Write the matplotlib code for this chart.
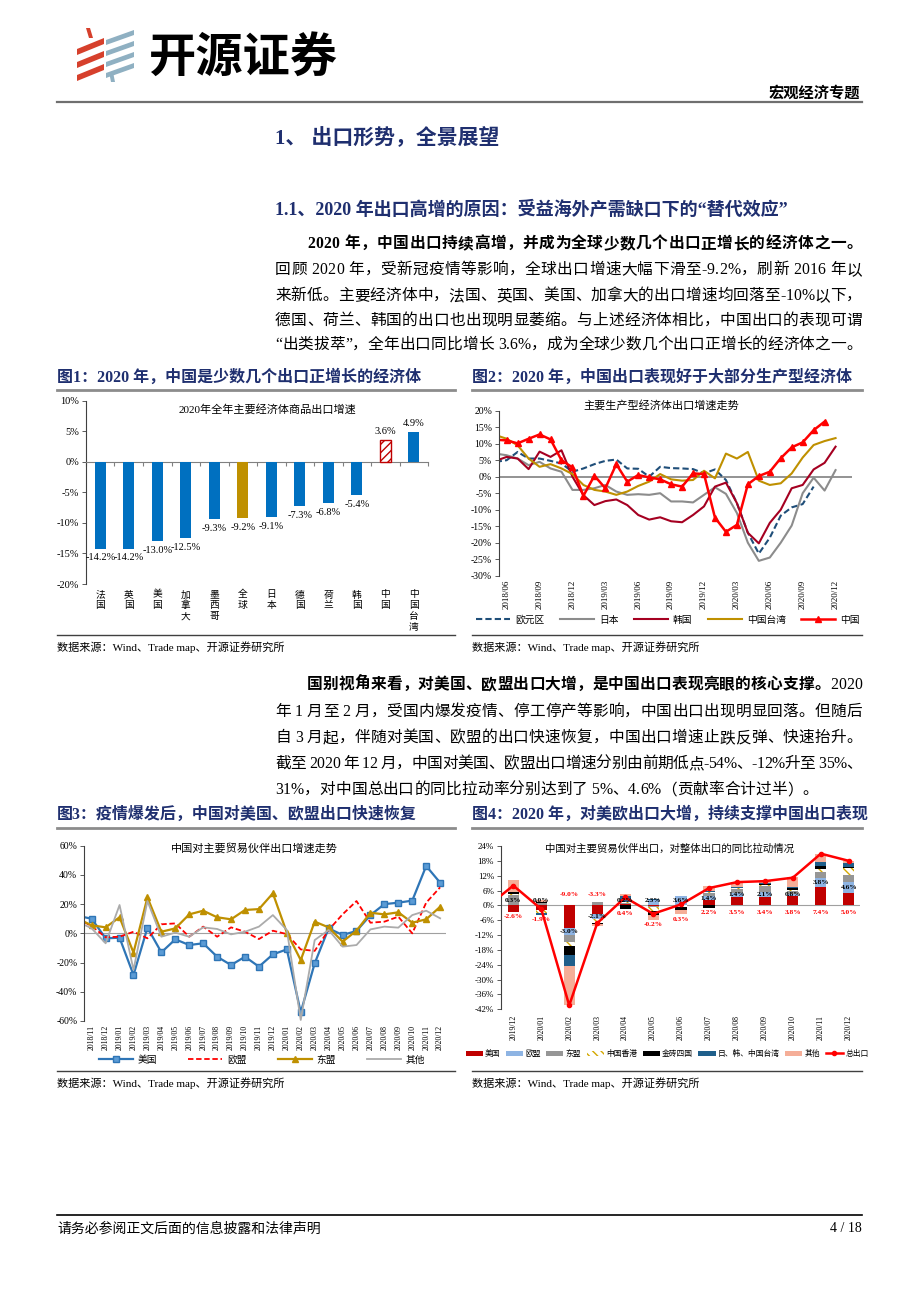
import numpy as np
import matplotlib
matplotlib.use('Agg')
import matplotlib.pyplot as plt
from matplotlib.lines import Line2D
from matplotlib.patches import Polygon, Patch

plt.rcParams['font.family'] = ['Liberation Serif', 'Noto Sans CJK SC']
plt.rcParams['axes.unicode_minus'] = False
plt.rcParams['hatch.linewidth'] = 1.0

# ---------------- data ----------------
# 图1
c1_labels = ['法国', '英国', '美国', '加拿大', '墨西哥', '全球', '日本', '德国', '荷兰', '韩国', '中国', '中国台湾']
c1_values = [-14.2, -14.2, -13.0, -12.5, -9.3, -9.2, -9.1, -7.3, -6.8, -5.4, 3.6, 4.9]

# 图2 (第一个点为 2018/05，仅在左边缘可见)
c2_ticks = ['2018/06', '2018/09', '2018/12', '2019/03', '2019/06', '2019/09', '2019/12',
            '2020/03', '2020/06', '2020/09', '2020/12']
c2_euro = [4.5, 5.0, 7.5, 5.5, 5.5, 4.8, 4.0, 1.5, 2.5, 3.8, 4.8, 5.2, 2.5, 2.4, 0.0, 3.0, 2.6,
           2.5, 2.3, 1.0, 2.2, -1.0, -8.0, -17.0, -23.3, -18.5, -11.8, -9.3, -8.3, -3.0, np.nan, np.nan]
c2_japan = [7.0, 6.5, 5.5, 3.5, 4.5, 2.5, 1.5, -4.0, -4.0, -3.5, -2.5, -4.5, -5.5, -5.3, -5.5, -5.0,
            -7.5, -7.5, -7.8, -5.5, -3.2, -5.2, -11.0, -20.0, -25.5, -24.5, -20.0, -14.8, -5.0, -0.3, -4.2, 2.0]
c2_korea = [4.8, 6.0, 5.5, 2.3, 7.6, 6.0, 8.0, 0.0, -5.6, -8.6, -7.4, -6.9, -8.6, -11.6, -13.0, -12.3,
            -13.5, -13.8, -11.6, -9.0, -3.0, -1.8, -8.0, -17.0, -20.2, -14.0, -10.0, -3.5, -2.5, 2.2, 4.2, 9.1]
c2_taiwan = [12.6, 11.5, 9.5, 5.5, 3.0, 3.8, 2.5, 0.8, -2.5, -4.0, -4.5, -5.5, -4.5, -2.8, -1.5, 0.8,
             -0.8, -1.2, -1.0, 1.8, -0.5, 7.0, 5.5, 7.5, -1.2, -2.5, -2.0, 1.0, 5.8, 9.6, 10.8, 11.7]
c2_china = [11.2, 11.0, 10.1, 11.5, 12.8, 11.3, 5.0, 2.8, -5.8, 0.3, -3.5, 3.8, -1.5, 0.5, -0.2, -0.8,
            -2.3, -3.0, 1.0, 0.8, -12.4, -16.7, -14.6, -2.3, 0.2, 1.5, 5.6, 8.9, 10.4, 14.1, 16.7, np.nan]

# 图3 (第一个点为 2018/10，仅在左边缘可见)
c3_ticks = ['2018/11', '2018/12', '2019/01', '2019/02', '2019/03', '2019/04', '2019/05', '2019/06',
            '2019/07', '2019/08', '2019/09', '2019/10', '2019/11', '2019/12', '2020/01', '2020/02',
            '2020/03', '2020/04', '2020/05', '2020/06', '2020/07', '2020/08', '2020/09', '2020/10',
            '2020/11', '2020/12']
c3_us = [12.0, 10.0, -3.4, -3.0, -28.5, 3.9, -13.0, -4.1, -8.0, -6.8, -16.0, -21.7, -16.0, -22.8,
         -14.4, -11.0, -54.0, -20.5, 3.4, -1.1, 1.6, 12.5, 20.0, 21.0, 22.4, 46.1, 34.7]
c3_eu = [10.0, 5.0, -2.7, -2.3, 1.1, -3.4, 6.2, 6.8, -2.3, 4.6, -2.3, 4.1, 1.1, -3.9, 1.8, -0.5,
         -11.0, -12.0, 2.3, 13.0, 22.1, 7.3, 8.0, 11.4, 0.0, 21.0, 31.5]
c3_asean = [10.0, 5.5, 4.1, 11.0, -13.2, 24.6, 1.1, 3.4, 13.0, 15.5, 11.0, 9.6, 16.0, 16.6, 27.4,
            0.5, -18.3, 8.0, 4.1, -5.7, 1.8, 14.1, 13.0, 14.4, 7.3, 9.6, 18.2]
c3_other = [8.0, 3.4, -6.8, 19.4, -25.0, 22.1, -2.3, 0.5, -2.3, 4.1, 3.0, -0.7, 1.1, 4.6, 12.5, 2.3,
            -59.3, -4.6, 2.3, -9.1, -8.0, 2.7, 4.6, 3.9, 12.5, 15.5, 10.3]

# 图4
c4_months = ['2019/12', '2020/01', '2020/02', '2020/03', '2020/04', '2020/05', '2020/06',
             '2020/07', '2020/08', '2020/09', '2020/10', '2020/11', '2020/12']
c4_names = ['美国', '欧盟', '东盟', '中国香港', '金砖四国', '日、韩、中国台湾', '其他']
c4_us = [-2.6, -1.9, -9.0, -3.3, 0.4, -0.2, 0.3, 2.2, 3.5, 3.4, 3.8, 7.4, 5.0]
c4_eu = [0.3, 0.0, -3.0, -2.1, 0.2, 2.3, 3.6, 1.4, 1.4, 2.1, 0.8, 3.8, 4.6]
c4_asean = [4.0, 1.0, -2.6, 1.2, 0.5, -0.6, 0.0, 1.5, 1.8, 2.3, 1.2, 2.3, 2.7]
c4_hk = [0.1, -1.0, -2.0, -1.6, 0.2, -1.3, -0.8, 0.5, 0.3, 0.3, 0.3, 1.3, 2.7]
c4_brics = [0.9, 0.3, -3.3, -0.5, -1.3, -1.8, -1.2, -1.0, 0.2, 0.7, 1.0, 1.0, 0.7]
c4_jkt = [0.1, -0.8, -4.5, 0.0, 2.5, 0.2, 0.0, 0.3, 0.3, 0.3, 0.3, 1.6, 1.3]
c4_other = [5.0, 0.8, -16.0, -1.0, 1.0, -2.0, -1.6, 2.0, 2.0, 0.6, 4.0, 3.5, 1.0]
# 总出口 (第一个点为 2019/11)
c4_total = [-1.1, 8.0, -1.5, -40.4, -7.2, 3.2, -3.4, 0.4, 7.0, 9.4, 9.8, 11.2, 20.9, 18.0]

# ---------------- page ----------------
W, H = 920, 1302
fig = plt.figure(figsize=(W / 100, H / 100), dpi=100)
navy = '#1F2F6F'
cjk = ['Noto Sans CJK SC', 'DejaVu Sans']


def fx(x):
    return x / W


def fy(y):
    return 1 - y / H


def txt(x, y, s, size, **kw):
    kw.setdefault('va', 'center')
    return fig.text(fx(x), fy(y), s, fontsize=size, **kw)


def hline(x0, x1, y, lw, color):
    fig.add_artist(Line2D([fx(x0), fx(x1)], [fy(y), fy(y)], lw=lw, color=color,
                          transform=fig.transFigure))


def axes_px(left, top, right, bottom):
    return fig.add_axes([fx(left), fy(bottom), (right - left) / W, (bottom - top) / H])


def poly(pts, color):
    fig.add_artist(Polygon([(fx(a), fy(b)) for a, b in pts], closed=True, color=color,
                           transform=fig.transFigure, lw=0))


renderer = fig.canvas.get_renderer()


def text_line(x0, x1, y, segs, size, justify=True):
    # 逐字排版，两端对齐
    items = []
    for s, w in segs:
        for ch in s:
            if ch == ' ':
                items.append((None, size * 1.389 * 0.25))
            else:
                t = fig.text(0, fy(y), ch, fontsize=size, fontweight=w, va='center', ha='left')
                items.append((t, t.get_window_extent(renderer=renderer).width))
    total = sum(wd for _, wd in items)
    extra = (x1 - x0 - total) / (len(items) - 1) if justify else 0
    cur = x0
    for t, wd in items:
        if t is not None:
            t.set_x(fx(cur))
        cur += wd + extra


# logo
red, blue = '#D6402C', '#8FB0C2'
poly([(86, 28), (90, 28), (93, 38), (89, 38)], red)
for k in range(3):
    yt = 38 + k * 13
    poly([(77, yt + 11), (104, yt), (104, yt + 6), (77, yt + 17)], red)
for k in range(4):
    yt = 30 + k * 11
    poly([(106, yt + 10), (134, yt), (134, yt + 5), (106, yt + 15)], blue)
poly([(109, 72), (113, 72), (115, 82), (111, 82)], blue)
txt(148, 58, '开源证券', 34, fontweight='bold', family=cjk)

txt(860, 93, '宏观经济专题', 11, ha='right', fontweight='bold')
hline(57, 862, 102, 1.6, '#6F6F6F')

txt(275, 138, '1、 出口形势，全景展望', 15, fontweight='bold', color=navy)
txt(275, 210, '1.1、2020 年出口高增的原因：受益海外产需缺口下的“替代效应”', 13,
    fontweight='bold', color=navy)

bs = 11.3
text_line(307, 862, 244, [('2020 年，中国出口持续高增，并成为全球少数几个出口正增长的经济体之一。', 'bold')], bs)
text_line(275, 862, 270, [('回顾 2020 年，受新冠疫情等影响，全球出口增速大幅下滑至-9.2%，刷新 2016 年以', 'normal')], bs)
text_line(275, 862, 296, [('来新低。主要经济体中，法国、英国、美国、加拿大的出口增速均回落至-10%以下，', 'normal')], bs)
text_line(275, 862, 321, [('德国、荷兰、韩国的出口也出现明显萎缩。与上述经济体相比，中国出口的表现可谓', 'normal')], bs)
text_line(275, 862, 345, [('“出类拔萃”，全年出口同比增长 3.6%，成为全球少数几个出口正增长的经济体之一。', 'normal')], bs)

text_line(307, 862, 685, [('国别视角来看，对美国、欧盟出口大增，是中国出口表现亮眼的核心支撑。', 'bold'),
                          ('2020', 'normal')], bs)
text_line(275, 862, 712, [('年 1 月至 2 月，受国内爆发疫情、停工停产等影响，中国出口出现明显回落。但随后', 'normal')], bs)
text_line(275, 862, 738, [('自 3 月起，伴随对美国、欧盟的出口快速恢复，中国出口增速止跌反弹、快速抬升。', 'normal')], bs)
text_line(275, 862, 764, [('截至 2020 年 12 月，中国对美国、欧盟出口增速分别由前期低点-54%、-12%升至 35%、', 'normal')], bs)
text_line(275, 862, 790, [('31%，对中国总出口的同比拉动率分别达到了 5%、4.6%（贡献率合计过半）。', 'normal')], bs,
          justify=False)

# 图标题和框线
txt(57, 378, '图1：2020 年，中国是少数几个出口正增长的经济体', 11.5, fontweight='bold', color=navy)
txt(472, 378, '图2：2020 年，中国出口表现好于大部分生产型经济体', 11.5, fontweight='bold', color=navy)
txt(57, 815, '图3：疫情爆发后，中国对美国、欧盟出口快速恢复', 11.5, fontweight='bold', color=navy)
txt(472, 815, '图4：2020 年，对美欧出口大增，持续支撑中国出口表现', 11.5, fontweight='bold', color=navy)
for yy in (390, 828):
    hline(57, 455, yy, 2.0, '#8C8C8C')
    hline(472, 862, yy, 2.0, '#8C8C8C')
for yy in (635, 1071):
    hline(57, 455, yy, 1.0, '#404040')
    hline(472, 862, yy, 1.0, '#404040')
src = '数据来源：Wind、Trade map、开源证券研究所'
for xx, yy in ((57, 647), (472, 647), (57, 1083), (472, 1083)):
    txt(xx, yy, src, 8)

hline(57, 862, 1215, 1.2, '#000000')
txt(57, 1229, '请务必参阅正文后面的信息披露和法律声明', 10)
txt(862, 1229, '4 / 18', 10, ha='right')


def style_axes(ax, yt, size=7):
    for s in ('top', 'right', 'bottom'):
        ax.spines[s].set_visible(False)
    ax.spines['left'].set_color('#404040')
    ax.spines['left'].set_linewidth(0.8)
    ax.set_yticks(yt)
    ax.set_yticklabels([f'{v}%' for v in yt], fontsize=size)
    ax.tick_params(axis='y', length=3, width=0.6, color='#404040', pad=2)
    ax.patch.set_alpha(0)


# ---------------- 图1 ----------------
ax1 = axes_px(86, 400.7, 428, 584)
x1 = np.arange(len(c1_labels))
cols = ['#BF9000' if c == '全球' else '#0070C0' for c in c1_labels]
bars = ax1.bar(x1, c1_values, width=0.38, color=cols, zorder=3)
bars[c1_labels.index('中国')].set(facecolor='white', edgecolor='#C00000', hatch='////', lw=1)
ax1.set_xlim(-0.5, len(c1_labels) - 0.5)
ax1.set_ylim(-20, 10)
style_axes(ax1, list(range(-20, 11, 5)), 7.5)
ax1.spines['bottom'].set_visible(True)
ax1.spines['bottom'].set_position(('data', 0))
ax1.spines['bottom'].set_color('#808080')
ax1.set_xticks(np.arange(-0.5, len(c1_labels), 1))
ax1.set_xticklabels([])
ax1.tick_params(axis='x', length=3, color='#808080')
for i, v in enumerate(c1_values):
    if v < 0:
        ax1.text(i, v - 0.8, f'{v:.1f}%', ha='center', va='top', fontsize=7.5)
    else:
        ax1.text(i, v + 0.7, f'{v:.1f}%', ha='center', va='bottom', fontsize=7.5)
    ax1.text(i, -20.9, '\n'.join(c1_labels[i]), ha='center', va='top', fontsize=7,
             linespacing=1.12, family=cjk)
ax1.text(0.53, 0.955, '2020年全年主要经济体商品出口增速', transform=ax1.transAxes,
         ha='center', va='center', fontsize=8)

# ---------------- 图2 ----------------
ax2 = axes_px(499, 410.7, 852, 575.7)
x2 = np.arange(-1, len(c2_china) - 1)
l_e, = ax2.plot(x2, c2_euro, color='#1F4E79', lw=1.5, ls=(0, (3, 1.5)))
l_j, = ax2.plot(x2, c2_japan, color='#8C8C8C', lw=1.5)
l_k, = ax2.plot(x2, c2_korea, color='#A50021', lw=1.5)
l_t, = ax2.plot(x2, c2_taiwan, color='#BF9000', lw=1.5)
l_c, = ax2.plot(x2, c2_china, color='#FF0000', lw=1.8, marker='^', ms=4.5)
ax2.axhline(0, color='#808080', lw=1.2, zorder=0)
ax2.set_xlim(-0.7, 31.5)
ax2.set_ylim(-30, 20)
style_axes(ax2, list(range(-30, 21, 5)))
ax2.set_xticks(np.arange(0, 31, 3))
ax2.set_xticklabels(c2_ticks, rotation=90, fontsize=6.5)
ax2.tick_params(axis='x', length=0, pad=3)
ax2.text(0.46, 1.035, '主要生产型经济体出口增速走势', transform=ax2.transAxes,
         ha='center', va='center', fontsize=8)
ax2.legend([l_e, l_j, l_k, l_t, l_c], ['欧元区', '日本', '韩国', '中国台湾', '中国'],
           ncol=5, loc='center', bbox_to_anchor=(fx(668), fy(620)), bbox_transform=fig.transFigure,
           frameon=False, fontsize=7, handlelength=3.5, columnspacing=1.6, handletextpad=0.5)

# ---------------- 图3 ----------------
ax3 = axes_px(84.3, 845.7, 445.7, 1021)
x3 = np.arange(-1, len(c3_us) - 1)
m_us, = ax3.plot(x3, c3_us, color='#2E75B6', lw=1.6, marker='s', ms=3.8, mfc='#5B9BD5', mec='#2E75B6')
m_eu, = ax3.plot(x3, c3_eu, color='#FF0000', lw=1.3, ls=(0, (3, 1.5)))
m_as, = ax3.plot(x3, c3_asean, color='#BF9000', lw=1.6, marker='^', ms=4)
m_ot, = ax3.plot(x3, c3_other, color='#ABABAB', lw=1.3)
ax3.axhline(0, color='#A0A0A0', lw=0.8, zorder=0)
ax3.set_xlim(-0.53, 25.4)
ax3.set_ylim(-60, 60)
style_axes(ax3, list(range(-60, 61, 20)))
ax3.set_xticks(np.arange(len(c3_ticks)))
ax3.set_xticklabels(c3_ticks, rotation=90, fontsize=5.6)
ax3.tick_params(axis='x', length=0, pad=3)
ax3.text(0.47, 0.985, '中国对主要贸易伙伴出口增速走势', transform=ax3.transAxes,
         ha='center', va='center', fontsize=8)
ax3.legend([m_us, m_eu, m_as, m_ot], ['美国', '欧盟', '东盟', '其他'],
           ncol=4, loc='center', bbox_to_anchor=(fx(262), fy(1060)), bbox_transform=fig.transFigure,
           frameon=False, fontsize=7, handlelength=3.5, columnspacing=3.2, handletextpad=0.5)

# ---------------- 图4 ----------------
ax4 = axes_px(501, 846, 860, 1009.3)
x4 = np.arange(len(c4_months))
series = [c4_us, c4_eu, c4_asean, c4_hk, c4_brics, c4_jkt, c4_other]
fills = ['#C00000', '#8EB4E3', '#969696', 'white', '#000000', '#1F5F8B', '#F5AE98']
pos_b = np.zeros(len(x4))
neg_b = np.zeros(len(x4))
handles = []
eu_mid = None
for name, vals, fc in zip(c4_names, series, fills):
    vals = np.array(vals)
    bottom = np.where(vals >= 0, pos_b, neg_b)
    kw = dict(facecolor=fc, lw=0)
    if name == '中国香港':
        kw = dict(facecolor='white', edgecolor='#D4A800', hatch='\\\\\\\\', lw=0)
    ax4.bar(x4, vals, width=0.4, bottom=bottom, zorder=2, **kw)
    handles.append(Patch(**kw))
    if name == '欧盟':
        eu_mid = bottom + vals / 2
    pos_b = pos_b + np.where(vals >= 0, vals, 0)
    neg_b = neg_b + np.where(vals < 0, vals, 0)
xt = np.arange(-1, len(c4_total) - 1)
l_tot, = ax4.plot(xt, c4_total, color='#FF0000', lw=1.8, marker='o', ms=3, zorder=4)
handles.append(l_tot)
ax4.axhline(0, color='#A0A0A0', lw=0.8, zorder=1)
ax4.set_xlim(-0.44, 12.4)
ax4.set_ylim(-42, 24)
style_axes(ax4, list(range(-42, 25, 6)), 6.5)
ax4.set_xticks(x4)
ax4.set_xticklabels(c4_months, rotation=90, fontsize=5.6)
ax4.tick_params(axis='x', length=0, pad=4)
for i in x4:
    # 美国拉动（红字）与欧盟拉动（黑字）
    yu = 4.3 if neg_b[i] < -8 else min(neg_b[i] - 2.0, -3.0)
    ax4.text(i, yu, f'{c4_us[i]:.1f}%', color='#FF0000', ha='center', va='center',
             fontsize=5.3, fontweight='bold', zorder=5)
    ye = max(eu_mid[i], 1.8) if c4_eu[i] >= 0 else eu_mid[i]
    ax4.text(i, ye, f'{c4_eu[i]:.1f}%', color='#000000', ha='center', va='center',
             fontsize=5.3, fontweight='bold', zorder=5)
ax4.text(0.47, 0.985, '中国对主要贸易伙伴出口，对整体出口的同比拉动情况', transform=ax4.transAxes,
         ha='center', va='center', fontsize=7.5)
ax4.legend(handles, c4_names + ['总出口'], ncol=8, loc='center',
           bbox_to_anchor=(fx(667), fy(1054)), bbox_transform=fig.transFigure,
           frameon=False, fontsize=5.6, handlelength=2.2, handleheight=0.6,
           columnspacing=0.7, handletextpad=0.3)

fig.savefig('out.png', dpi=100)
